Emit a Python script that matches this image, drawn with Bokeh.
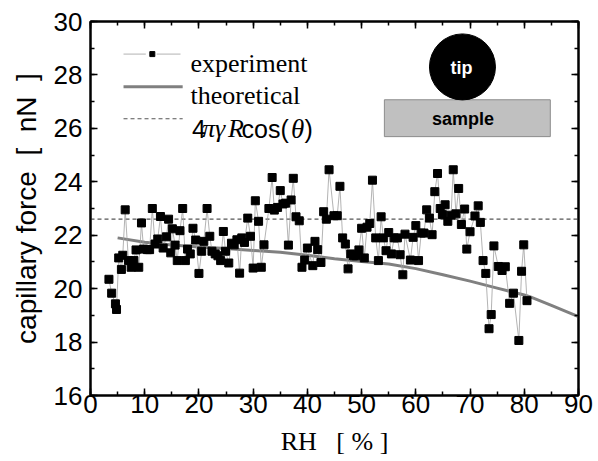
from bokeh.plotting import figure
from bokeh.models import SingleIntervalTicker, LinearAxis, Range1d, Label, CustomJSTickFormatter
from bokeh.embed import file_html
from bokeh.resources import INLINE

# ---------------- data ----------------
rh_exp = [3.4, 3.9, 4.6, 4.8, 5.2, 5.7, 5.95, 6.4, 7.0, 7.5, 8.0, 8.4, 8.9, 9.4, 9.8,
          10.5, 10.9, 11.4, 11.9, 12.4, 12.9, 13.4, 14.0, 14.4, 14.8, 15.1, 15.6, 16.0,
          16.5, 17.0, 17.5, 17.9, 18.4, 18.9, 19.4, 20.0, 20.5, 20.9, 21.5, 22.0, 22.4,
          23.0, 23.5, 24.0, 24.5, 24.9, 25.5, 26.0, 26.5, 27.0, 27.5, 27.9, 28.4, 29.0,
          29.5, 30.0, 30.4, 31.0, 31.5, 32.0, 32.9, 33.5, 33.9, 34.5, 35.0, 35.5, 36.0,
          36.5, 37.0, 37.4, 37.9, 38.5, 39.0, 39.5, 40.0, 41.0, 41.4, 41.9, 42.5, 43.0,
          43.5, 44.0, 44.9, 45.5, 46.0, 46.5, 47.0, 47.5, 48.0, 48.5, 49.0, 49.5, 50.0,
          50.5, 51.0, 51.5, 52.0, 52.6, 53.1, 53.6, 54.0, 54.5, 55.0, 55.5, 56.0, 56.6,
          57.1, 57.6, 58.0, 59.0, 59.5, 60.0, 60.5, 61.0, 61.5, 62.0, 62.5, 63.0, 63.5,
          64.0, 64.5, 64.9, 65.4, 65.9, 66.5, 66.9, 67.4, 67.9, 68.4, 69.0, 69.4, 70.0,
          70.9, 71.5, 71.9, 72.4, 72.9, 73.5, 73.9, 74.4, 75.2, 75.9, 76.5, 77.3, 78.0,
          79.0, 79.5, 79.9, 80.5]
force_exp = [20.35, 19.83, 19.43, 19.22, 21.15, 20.72, 21.25, 22.95, 21.05, 20.8, 21.05,
             21.45, 20.8, 22.46, 21.48, 21.46, 21.46, 23.0, 21.67, 21.86, 22.7, 21.52,
             21.94, 22.6, 21.34, 22.24, 21.63, 21.05, 22.17, 23.0, 21.05, 21.48, 21.3,
             22.26, 21.82, 20.57, 21.4, 21.77, 23.0, 21.96, 21.4, 21.3, 21.23, 21.05,
             22.14, 21.4, 20.96, 21.7, 21.64, 21.83, 20.58, 21.9, 21.73, 22.64, 21.96,
             20.77, 23.29, 22.52, 20.8, 21.64, 23.0, 24.16, 22.94, 23.04, 23.67, 23.17,
             23.2, 21.63, 23.32, 24.13, 22.69, 22.54, 20.8, 21.07, 21.52, 20.86, 21.77,
             21.46, 20.98, 22.88, 22.6, 24.45, 22.73, 22.73, 23.83, 21.9, 21.67, 20.74,
             21.3, 21.23, 21.23, 21.45, 22.26, 21.15, 22.3, 22.44, 24.06, 21.9, 21.05,
             22.69, 21.9, 21.42, 22.1, 21.3, 21.9, 21.9, 21.27, 20.52, 22.04, 21.07,
             21.92, 22.36, 21.05, 22.08, 22.08, 22.95, 22.64, 22.02, 23.63, 24.31, 23.0,
             22.77, 23.14, 22.52, 22.75, 24.45, 22.8, 23.75, 22.4, 22.98, 21.48, 22.13,
             22.72, 23.1, 22.48, 21.05, 20.57, 18.5, 19.03, 21.6, 20.83, 20.68, 20.82,
             19.45, 19.83, 18.06, 20.65, 21.64, 19.55]
rh_theory = [5, 10, 15, 20, 25, 30, 35, 40, 45, 50, 55, 60, 65, 70, 75, 80, 81, 85, 90]
force_theory = [21.9, 21.74, 21.63, 21.56, 21.5, 21.43, 21.36, 21.25, 21.12, 21.02, 20.92,
                20.75, 20.52, 20.28, 20.02, 19.76, 19.70, 19.37, 18.95]
force_limit = 22.6
x_limits = [0, 90]
y_limits = [16, 30]

SANS = "Liberation Sans"
SERIF = "Liberation Serif"
NB = "\u00a0"

p = figure(width=598, height=461, x_range=Range1d(*x_limits), y_range=Range1d(*y_limits),
           output_backend="svg", toolbar_location=None,
           min_border_left=90, min_border_right=20, min_border_top=21, min_border_bottom=66)
p.xgrid.visible = False
p.ygrid.visible = False
p.outline_line_color = "black"
p.outline_line_width = 2
p.background_fill_color = "white"

def style_axis(ax, labels=True):
    ax.axis_line_color = "black"
    ax.axis_line_width = 2
    ax.major_tick_in = 7
    ax.major_tick_out = 0
    ax.minor_tick_in = 4
    ax.minor_tick_out = 0
    ax.major_tick_line_color = "black"
    ax.minor_tick_line_color = "black"
    ax.major_tick_line_width = 1.5
    ax.minor_tick_line_width = 1.5
    if labels:
        ax.major_label_text_font = SANS
        ax.major_label_text_font_size = "26px"
        ax.major_label_text_color = "black"
    else:
        ax.formatter = CustomJSTickFormatter(code="return '';")
        ax.major_label_standoff = 0

xax = p.xaxis[0]
yax = p.yaxis[0]
xax.ticker = SingleIntervalTicker(interval=10, num_minor_ticks=2)
yax.ticker = SingleIntervalTicker(interval=2, num_minor_ticks=2)
style_axis(xax)
style_axis(yax)
xax.major_label_standoff = -1
xax.axis_label = "RH" + NB * 3 + "[ % ]"
xax.axis_label_text_font = SERIF
xax.axis_label_text_font_style = "normal"
xax.axis_label_text_font_size = "26px"
xax.axis_label_text_color = "black"
xax.axis_label_standoff = 11
yax.major_label_standoff = 8
yax.axis_label = "capillary force" + NB * 2 + "[" + NB * 2 + "nN" + NB * 2 + "]"
yax.axis_label_text_font = SANS
yax.axis_label_text_font_style = "normal"
yax.axis_label_text_font_size = "28px"
yax.axis_label_text_color = "black"
yax.axis_label_standoff = 9

top = LinearAxis(ticker=SingleIntervalTicker(interval=10, num_minor_ticks=2))
right = LinearAxis(ticker=SingleIntervalTicker(interval=2, num_minor_ticks=2))
style_axis(top, labels=False)
style_axis(right, labels=False)
p.add_layout(top, "above")
p.add_layout(right, "right")

# data
p.line(x_limits, [force_limit, force_limit], line_color="#555555", line_width=1.2, line_dash="4 3")
p.line(rh_theory, force_theory, line_color="#808080", line_width=3)
p.line(rh_exp, force_exp, line_color="#a0a0a0", line_width=0.8)
p.scatter(rh_exp, force_exp, marker="square", size=8, fill_color="black", line_color="black")

# legend (drawn manually)
p.line([6.09, 10.2], [28.78, 28.78], line_color="#a0a0a0", line_width=0.8)
p.line([12.2, 16.6], [28.78, 28.78], line_color="#a0a0a0", line_width=0.8)
p.scatter([11.4], [28.78], marker="square", size=5, fill_color="black", line_color="black")
p.line([6.09, 17.0], [27.56, 27.56], line_color="#808080", line_width=3)
p.line([6.09, 17.0], [26.36, 26.36], line_color="#555555", line_width=1.2, line_dash="4 3")

def lab(text, xoff, y, font, style="normal", size="26px"):
    p.add_layout(Label(x=0, y=y, x_offset=xoff, text=text, text_font=font,
                       text_font_style=style, text_font_size=size, text_color="black",
                       text_baseline="alphabetic", text_align="left"))

lab("experiment", 100, 28.41, SERIF)
lab("theoretical", 100, 27.22, SERIF)
lab("4", 101.5, 25.99, SANS, size="25px")
lab("\u03c0\u03b3", 111.5, 25.99, SERIF, "italic")
lab("R", 137.5, 25.99, SERIF, "italic")
lab("cos(", 151, 25.99, SANS, size="25px")
lab("\u03b8", 200.5, 25.99, SERIF, "italic", size="27px")
lab(")", 214, 25.99, SANS, size="25px")

# tip / sample sketch
p.quad(left=[54.2], right=[84.8], top=[27.07], bottom=[25.69], fill_color="#c0c0c0",
       line_color="#8c8c8c", line_width=1)
p.scatter([68.6], [28.3], marker="circle", size=66, fill_color="black", line_color="black")
p.add_layout(Label(x=68.4, y=28.27, text="tip", text_font=SANS, text_font_style="bold",
                   text_font_size="18px", text_color="white", text_align="center",
                   text_baseline="middle"))
p.add_layout(Label(x=68.7, y=26.36, text="sample", text_font=SANS, text_font_style="bold",
                   text_font_size="18px", text_color="black", text_align="center",
                   text_baseline="middle"))

open("out.html", "w").write(file_html(p, INLINE))
